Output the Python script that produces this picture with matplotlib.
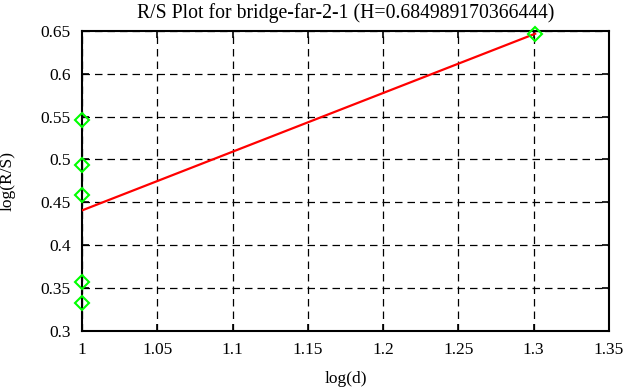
import matplotlib.pyplot as plt
import numpy as np
from matplotlib.ticker import FuncFormatter

# data
log_d = np.array([1.0, 1.0, 1.0, 1.0, 1.0, 1.30103])
log_rs = np.array([0.546, 0.494, 0.458, 0.357, 0.332, 0.647])
H = 0.684989170366444
intercept = -0.2444
fit_x = np.array([1.0, 1.30103])

plt.rcParams['font.family'] = 'Liberation Serif'
plt.rcParams['font.size'] = 12.5

fig = plt.figure(figsize=(6.31, 3.87), dpi=100)
ax = fig.add_axes([0.13, 0.145, 0.835, 0.775])

ax.plot(fit_x, H * fit_x + intercept, color='red', lw=1.6, zorder=3)
ax.plot(log_d, log_rs, 'D', mfc='none', mec='#00ff00', ms=7.5, mew=1.5,
        clip_on=False, zorder=4)

ax.set_xlim(1, 1.35)
ax.set_ylim(0.3, 0.65)
ax.set_xticks(np.arange(1, 1.351, 0.05))
ax.set_yticks(np.arange(0.3, 0.651, 0.05))
fmt = FuncFormatter(lambda v, p: f"{v:g}")
ax.xaxis.set_major_formatter(fmt)
ax.yaxis.set_major_formatter(fmt)
ax.tick_params(direction='in', length=5, width=1.2, top=True, right=True, pad=8)
ax.grid(True, color='black', linestyle=(0, (6, 4)), linewidth=0.9)
for s in ax.spines.values():
    s.set_linewidth(1.5)

ax.set_title('R/S Plot for bridge-far-2-1 (H=0.684989170366444)', pad=9, fontsize=14.2)
ax.set_xlabel('log(d)')
ax.set_ylabel('log(R/S)')
ax.xaxis.set_label_coords(0.5, -0.135)
ax.yaxis.set_label_coords(-0.127, 0.5)

fig.savefig('out.png', dpi=100)
